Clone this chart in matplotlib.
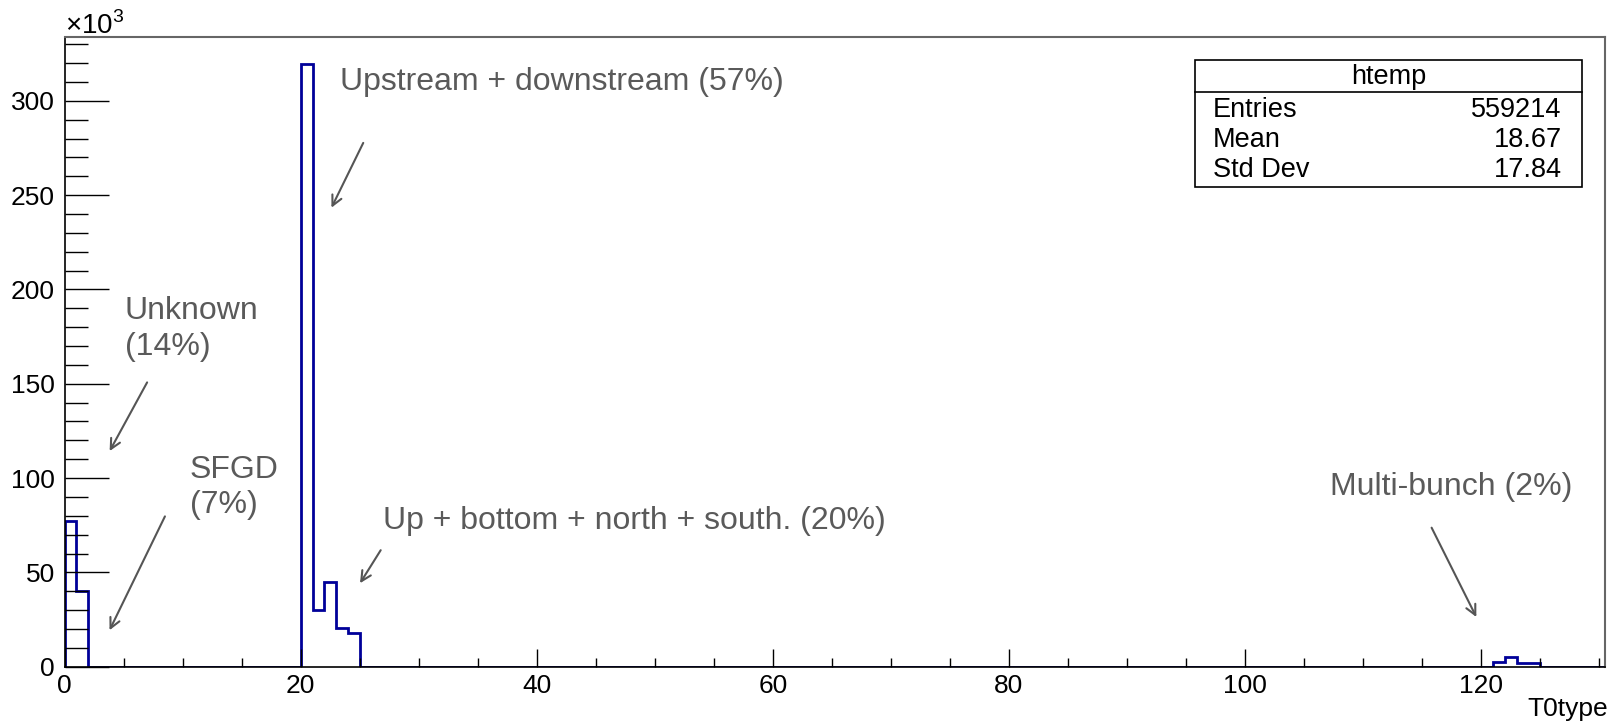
import numpy as np
import matplotlib
matplotlib.use("Agg")
import matplotlib.pyplot as plt
from matplotlib.ticker import MultipleLocator

plt.rcParams['font.family'] = ['Liberation Sans', 'DejaVu Sans']

# T0type histogram, integer bins 0..131 (only non-empty bins listed)
bin_lo = [0, 1, 20, 21, 22, 23, 24, 121, 122, 123, 124]
counts = [77400, 40300, 319400, 29900, 45100, 20500, 17900, 2650, 5300, 2100, 2100]
n_bins = 131

stats_labels = ["Entries", "Mean", "Std Dev"]
stats_values = ["559214", "18.67", "17.84"]

# annotations: text, text pos (x, y in 10^3), arrow start, arrow end
notes = [
    ("Upstream + downstream (57%)", (23.3, 310), (25.4, 279), (22.5, 242)),
    ("Unknown\n(14%)", (5.1, 179), (7.1, 152), (3.7, 113)),
    ("SFGD\n(7%)", (10.6, 95), (8.6, 81), (3.7, 18)),
    ("Up + bottom + north + south. (20%)", (27.0, 77), (26.9, 63), (24.9, 43)),
    ("Multi-bunch (2%)", (107.2, 95), (115.7, 75), (119.7, 25)),
]

edges = np.arange(n_bins + 1)
hist = np.zeros(n_bins)
hist[bin_lo] = counts

fig = plt.figure(figsize=(16.12, 7.23), dpi=100)
ax = fig.add_axes([0.0401, 0.0779, 0.9556, 0.8714])

ax.stairs(hist / 1e3, edges, color='#000099', lw=2.0, baseline=0)

ax.set_xlim(0, 130.5)
ax.set_ylim(0, 334)
ax.xaxis.set_major_locator(MultipleLocator(20))
ax.xaxis.set_minor_locator(MultipleLocator(5))
ax.yaxis.set_major_locator(MultipleLocator(50))
ax.yaxis.set_minor_locator(MultipleLocator(10))
ax.tick_params(axis='x', which='major', direction='in', length=13, width=1, labelsize=19, pad=5)
ax.tick_params(axis='x', which='minor', direction='in', length=6.5, width=1)
ax.tick_params(axis='y', which='major', direction='in', length=32, width=1, labelsize=19, pad=7)
ax.tick_params(axis='y', which='minor', direction='in', length=16.5, width=1)
for s in ['top', 'right']:
    ax.spines[s].set_color('#666666')
    ax.spines[s].set_linewidth(1.5)
for s in ['left', 'bottom']:
    ax.spines[s].set_linewidth(1.2)

fig.text(64.7 / 1612, 1 - 34 / 723, '×10$^{\\mathregular{3}}$', fontsize=20, ha='left', va='baseline')
fig.text(1608 / 1612, 1 - 716 / 723, 'T0type', fontsize=19, ha='right', va='baseline')

for txt, tpos, a0, a1 in notes:
    ax.text(tpos[0], tpos[1], txt, fontsize=23, color='#5a5a5a', ha='left', va='center', linespacing=1.25)
    ax.annotate('', xy=a1, xytext=a0,
                arrowprops=dict(arrowstyle='->', color='#555555', lw=1.5, mutation_scale=18))

# stats box
bx0, bx1 = 1195 / 1612, 1581.7 / 1612
by0, by1 = 1 - 186.7 / 723, 1 - 60 / 723
fig.add_artist(plt.Rectangle((bx0, by0), bx1 - bx0, by1 - by0, transform=fig.transFigure,
                             fill=True, facecolor='white', edgecolor='black', lw=1.2))
fig.add_artist(plt.Line2D([bx0, bx1], [1 - 91.7 / 723] * 2, transform=fig.transFigure, color='black', lw=1.2))
fig.text((bx0 + bx1) / 2, 1 - 76.7 / 723, 'htemp', fontsize=19.5, ha='center', va='center')
for i, (lab, val) in enumerate(zip(stats_labels, stats_values)):
    yy = 1 - (110 + 30 * i) / 723
    fig.text(1213 / 1612, yy, lab, fontsize=19.5, ha='left', va='center')
    fig.text(1561.7 / 1612, yy, val, fontsize=19.5, ha='right', va='center')

fig.savefig('out.png', dpi=100)
